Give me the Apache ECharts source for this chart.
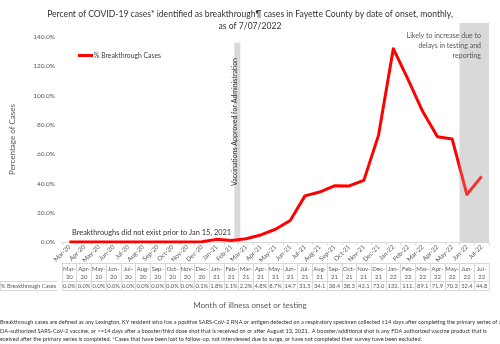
<!DOCTYPE html>
<html><head><meta charset="utf-8">
<script src="https://cdn.jsdelivr.net/npm/echarts@6/dist/echarts.min.js"></script>
<style>html,body{margin:0;padding:0;background:#fff}#c{width:500px;height:344px}</style>
</head><body><div id="c"></div>
<script>
const months = ['Mar-20','Apr-20','May-20','Jun-20','Jul-20','Aug-20','Sep-20','Oct-20','Nov-20','Dec-20',
  'Jan-21','Feb-21','Mar-21','Apr-21','May-21','Jun-21','Jul-21','Aug-21','Sep-21','Oct-21','Nov-21','Dec-21',
  'Jan-22','Feb-22','Mar-22','Apr-22','May-22','Jun-22','Jul-22'];
const breakthroughPct = [0.0,0.0,0.0,0.0,0.0,0.0,0.0,0.0,0.0,0.1,
  1.8,1.1,2.2,4.8,8.7,14.7,31.5,34.1,38.4,38.3,42.1,73.0,
  132.0,111.0,89.1,71.9,70.3,32.4,44.8];
const vaccineBand = months.map(m => m === 'Feb-21' ? 136 : null);
const reportingBand = months.map(m => (m === 'Jun-22' || m === 'Jul-22') ? 149.6 : null);
const yTicks = [0,20,40,60,80,100,120,140];
const seriesName = '% Breakthrough Cases';
const titleText = 'Percent of COVID-19 cases* identified as breakthrough\u00b6 cases in Fayette County by date of onset, monthly,\nas of 7/07/2022';
const footnote = [
  'Breakthrough cases are defined as any Lexington, KY resident who has a positive SARS-CoV-2 RNA or antigen detected on a respiratory specimen collected \u226514 days after completing the primary series of an',
  'DA-authorized SARS-CoV-2 vaccine, or >=14 days after a booster/third dose shot that is received on or after August 13, 2021.  A booster/additional shot is any FDA authorized vaccine product that is',
  'eceived after the primary series is completed. *Cases that have been lost to follow-up, not interviewed due to surge, or have not completed their survey have been excluded.'
];

const FONT = 'Lato';
const GRAY = '#595959';
const LINE = '#d9d9d9';
const fmtVal = v => v < 10 ? v.toFixed(1) + '%' : (v >= 100 ? v.toFixed(0) + '.' : v.toFixed(1));

const chart = echarts.init(document.getElementById('c'), null, {renderer: 'canvas'});
const baseX = {type: 'category', data: months, gridIndex: 0, boundaryGap: true};
chart.setOption({
  animation: false,
  textStyle: {fontFamily: FONT},
  title: {text: titleText, left: 'center', top: 3,
    textStyle: {fontSize: 8.6, fontWeight: 'normal', color: '#333', lineHeight: 12, fontFamily: FONT}},
  legend: {data: [seriesName], left: 73, top: 47, itemWidth: 15, itemHeight: 3, icon: 'rect', itemGap: 2,
    textStyle: {fontSize: 6.8, color: '#404040', fontFamily: FONT, padding: [0,0,0,-4]}},
  grid: {left: 57, right: 11, top: 37, bottom: 102},
  xAxis: [
    Object.assign({}, baseX, {
      axisLine: {lineStyle: {color: LINE}}, axisTick: {show: true, length: 3, lineStyle: {color: LINE}},
      axisLabel: {rotate: 45, fontSize: 6.3, color: GRAY, margin: 4, interval: 0, fontFamily: FONT}}),
    Object.assign({}, baseX, {position: 'bottom', offset: 21,
      axisLine: {lineStyle: {color: LINE}}, axisTick: {show: true, length: 27, interval: 0, lineStyle: {color: LINE}},
      axisLabel: {interval: 0, fontSize: 6, lineHeight: 8, color: GRAY, margin: 2, fontFamily: FONT,
        formatter: v => v.replace('-', '-\n')}}),
    Object.assign({}, baseX, {position: 'bottom', offset: 39,
      axisLine: {lineStyle: {color: LINE}}, axisTick: {show: false},
      axisLabel: {interval: 0, fontSize: 5.8, color: GRAY, margin: 2.5, fontFamily: FONT,
        formatter: (v, i) => fmtVal(breakthroughPct[i])}}),
    Object.assign({}, baseX, {position: 'bottom', offset: 48,
      axisLine: {lineStyle: {color: LINE}}, axisTick: {show: false}, axisLabel: {show: false}})
  ],
  yAxis: {type: 'value', min: 0, max: 140, interval: 20,
    name: 'Percentage of Cases', nameLocation: 'middle', nameGap: 46,
    nameTextStyle: {fontSize: 8, color: GRAY, fontFamily: FONT},
    axisLine: {show: false}, axisTick: {show: false}, splitLine: {show: false},
    axisLabel: {fontSize: 6.5, color: GRAY, margin: 7, fontFamily: FONT,
      formatter: v => yTicks.includes(v) ? v.toFixed(1) + '%' : ''}},
  series: [
    {type: 'bar', name: 'spacer', xAxisIndex: 0, data: [], barWidth: 12, silent: true},
    {type: 'bar', name: 'vacc', xAxisIndex: 0, data: vaccineBand, barWidth: 6, barGap: 0, clip: false,
      itemStyle: {color: LINE}, z: 1, silent: true},
    {type: 'bar', name: 'report', xAxisIndex: 1, data: reportingBand, barWidth: '100%', clip: false,
      itemStyle: {color: LINE}, z: 1, silent: true},
    {type: 'line', name: seriesName, xAxisIndex: 0, data: breakthroughPct, showSymbol: false,
      lineStyle: {width: 3, color: '#ff0000', join: 'round'}, itemStyle: {color: '#ff0000'}, z: 3},
    {type: 'bar', name: 'reportVeil', xAxisIndex: 2, data: reportingBand, barWidth: '100%', clip: false,
      itemStyle: {color: LINE, opacity: 0.22}, z: 4, silent: true}
  ],
  graphic: [
    {type: 'text', x: 234.5, y: 122, rotation: Math.PI / 2, z: 100,
      style: {text: 'Vaccinations Approved for Administration', fontSize: 7, fill: '#333', fontFamily: FONT,
        textAlign: 'center', textVerticalAlign: 'middle'}},
    {type: 'text', x: 72, y: 229, z: 100,
      style: {text: 'Breakthroughs did not exist prior to Jan 15, 2021', fontSize: 7.4, fill: '#333', fontFamily: FONT}},
    {type: 'text', x: 481, y: 31, z: 100,
      style: {text: 'Likely to increase due to\ndelays in testing and\nreporting', fontSize: 7, lineHeight: 10,
        fill: GRAY, fontFamily: FONT, textAlign: 'right'}},
    {type: 'line', shape: {x1: 0, y1: 281.5, x2: 57, y2: 281.5}, style: {stroke: LINE, lineWidth: 1}},
    {type: 'line', shape: {x1: 0, y1: 290.5, x2: 57, y2: 290.5}, style: {stroke: LINE, lineWidth: 1}},
    {type: 'line', shape: {x1: 0.5, y1: 281.5, x2: 0.5, y2: 290.5}, style: {stroke: LINE, lineWidth: 1}},
    {type: 'text', x: 1, y: 283,
      style: {text: '% Breakthrough Cases', fontSize: 5.6, fill: GRAY, fontFamily: FONT}},
    {type: 'text', x: 250, y: 301,
      style: {text: 'Month of illness onset or testing', fontSize: 8, fill: GRAY, fontFamily: FONT, textAlign: 'center'}},
    {type: 'text', x: 0, y: 318,
      style: {text: footnote.join('\n'), fontSize: 5.6, lineHeight: 8.5, fill: '#333', fontFamily: FONT}}
  ]
});
</script></body></html>
